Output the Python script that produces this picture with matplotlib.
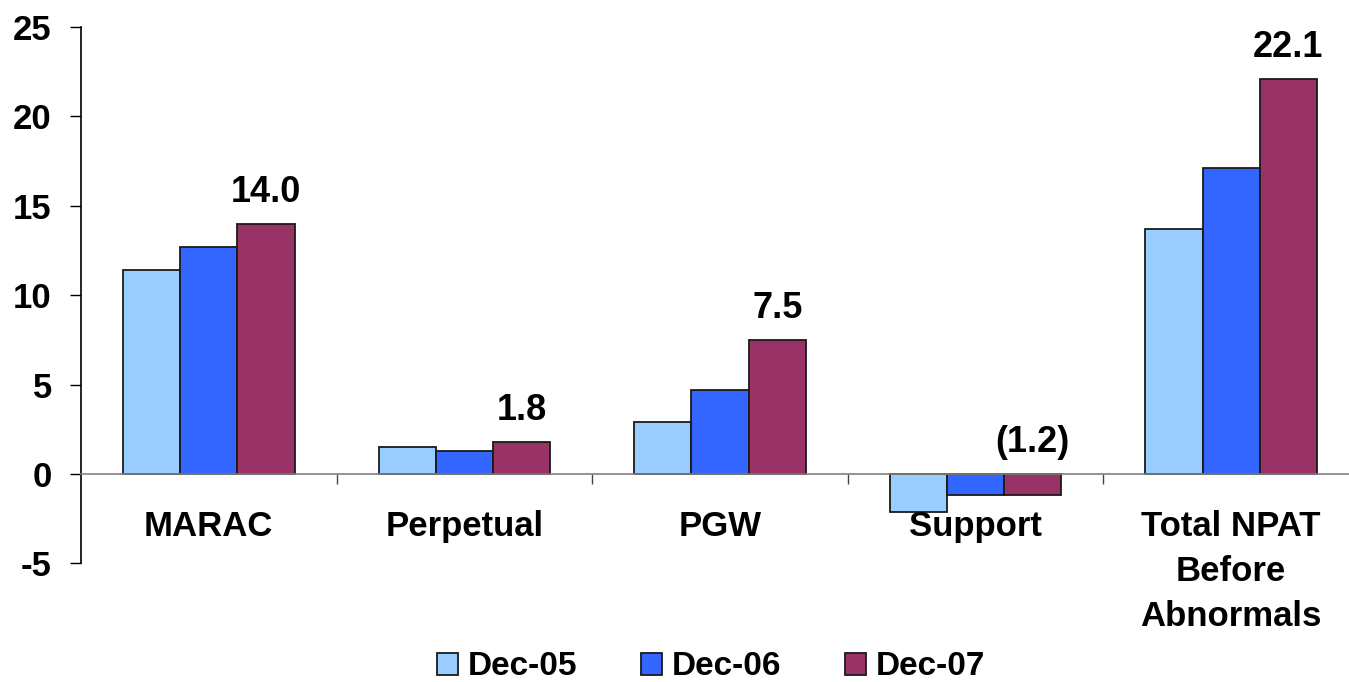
import matplotlib
matplotlib.use('Agg')
import matplotlib.pyplot as plt
import numpy as np

plt.rcParams['font.family'] = ['Liberation Sans', 'DejaVu Sans']
plt.rcParams['font.weight'] = 'bold'
plt.rcParams['axes.unicode_minus'] = False

# datos
categorias = ['MARAC', 'Perpetual', 'PGW', 'Support', 'Total NPAT\nBefore\nAbnormals']
series = ['Dec-05', 'Dec-06', 'Dec-07']
dec05 = [11.4, 1.5, 2.9, -2.1, 13.7]
dec06 = [12.7, 1.3, 4.7, -1.2, 17.1]
dec07 = [14.0, 1.8, 7.5, -1.2, 22.1]
colores = ['#99CCFF', '#3366FF', '#993366']

fig = plt.figure(figsize=(13.49, 6.82), dpi=100)
ax = fig.add_axes([81 / 1349, 1 - 563.4 / 682, 1 - 81 / 1349, (563.4 - 27) / 682])

x = np.arange(len(categorias))
ancho = 0.224
valores = [dec05, dec06, dec07]
for k, (vals, col, nombre) in enumerate(zip(valores, colores, series)):
    ax.bar(x + (k - 1) * ancho, vals, ancho, color=col, edgecolor='#1a1a1a',
           linewidth=1.3, label=nombre, zorder=2)

# etiquetas solo para Dec-07
for xi, v in zip(x, dec07):
    texto = f'{v:.1f}' if v >= 0 else f'({abs(v):.1f})'
    y = max(v, 0)
    ax.annotate(texto, (xi + ancho, y), xytext=(0, 10), textcoords='offset points',
                ha='center', va='bottom', fontsize=26, fontweight='bold')

ax.set_ylim(-5, 25)
ax.set_xlim(-0.5, 4.461)
ax.set_yticks(range(-5, 26, 5))
ax.tick_params(axis='y', direction='out', length=8, width=1, pad=13,
               labelsize=25, colors='black')

# categorias debajo de la linea del cero
ax.set_xticks([])
ax.set_xticks(x[:-1] + 0.5, minor=True)
ax.tick_params(axis='x', which='minor', direction='out', length=7, width=1, color='#444444')
for xi, cat in zip(x, categorias):
    ax.annotate(cat, (xi, 0), xytext=(0, -26), textcoords='offset points',
                ha='center', va='top', fontsize=25, fontweight='bold',
                linespacing=1.45, zorder=3)

ax.spines['top'].set_visible(False)
ax.spines['right'].set_visible(False)
ax.spines['bottom'].set_position(('data', 0))
ax.spines['bottom'].set_color('#808080')
ax.spines['bottom'].set_linewidth(1.2)
ax.spines['left'].set_linewidth(1.2)

fig.legend(loc='center', bbox_to_anchor=(0.527, 0.022), ncol=3, frameon=False,
           fontsize=24, handlelength=0.63, handleheight=0.65, handletextpad=0.3,
           columnspacing=1.9, borderpad=0)

plt.savefig('out.png', dpi=100)
